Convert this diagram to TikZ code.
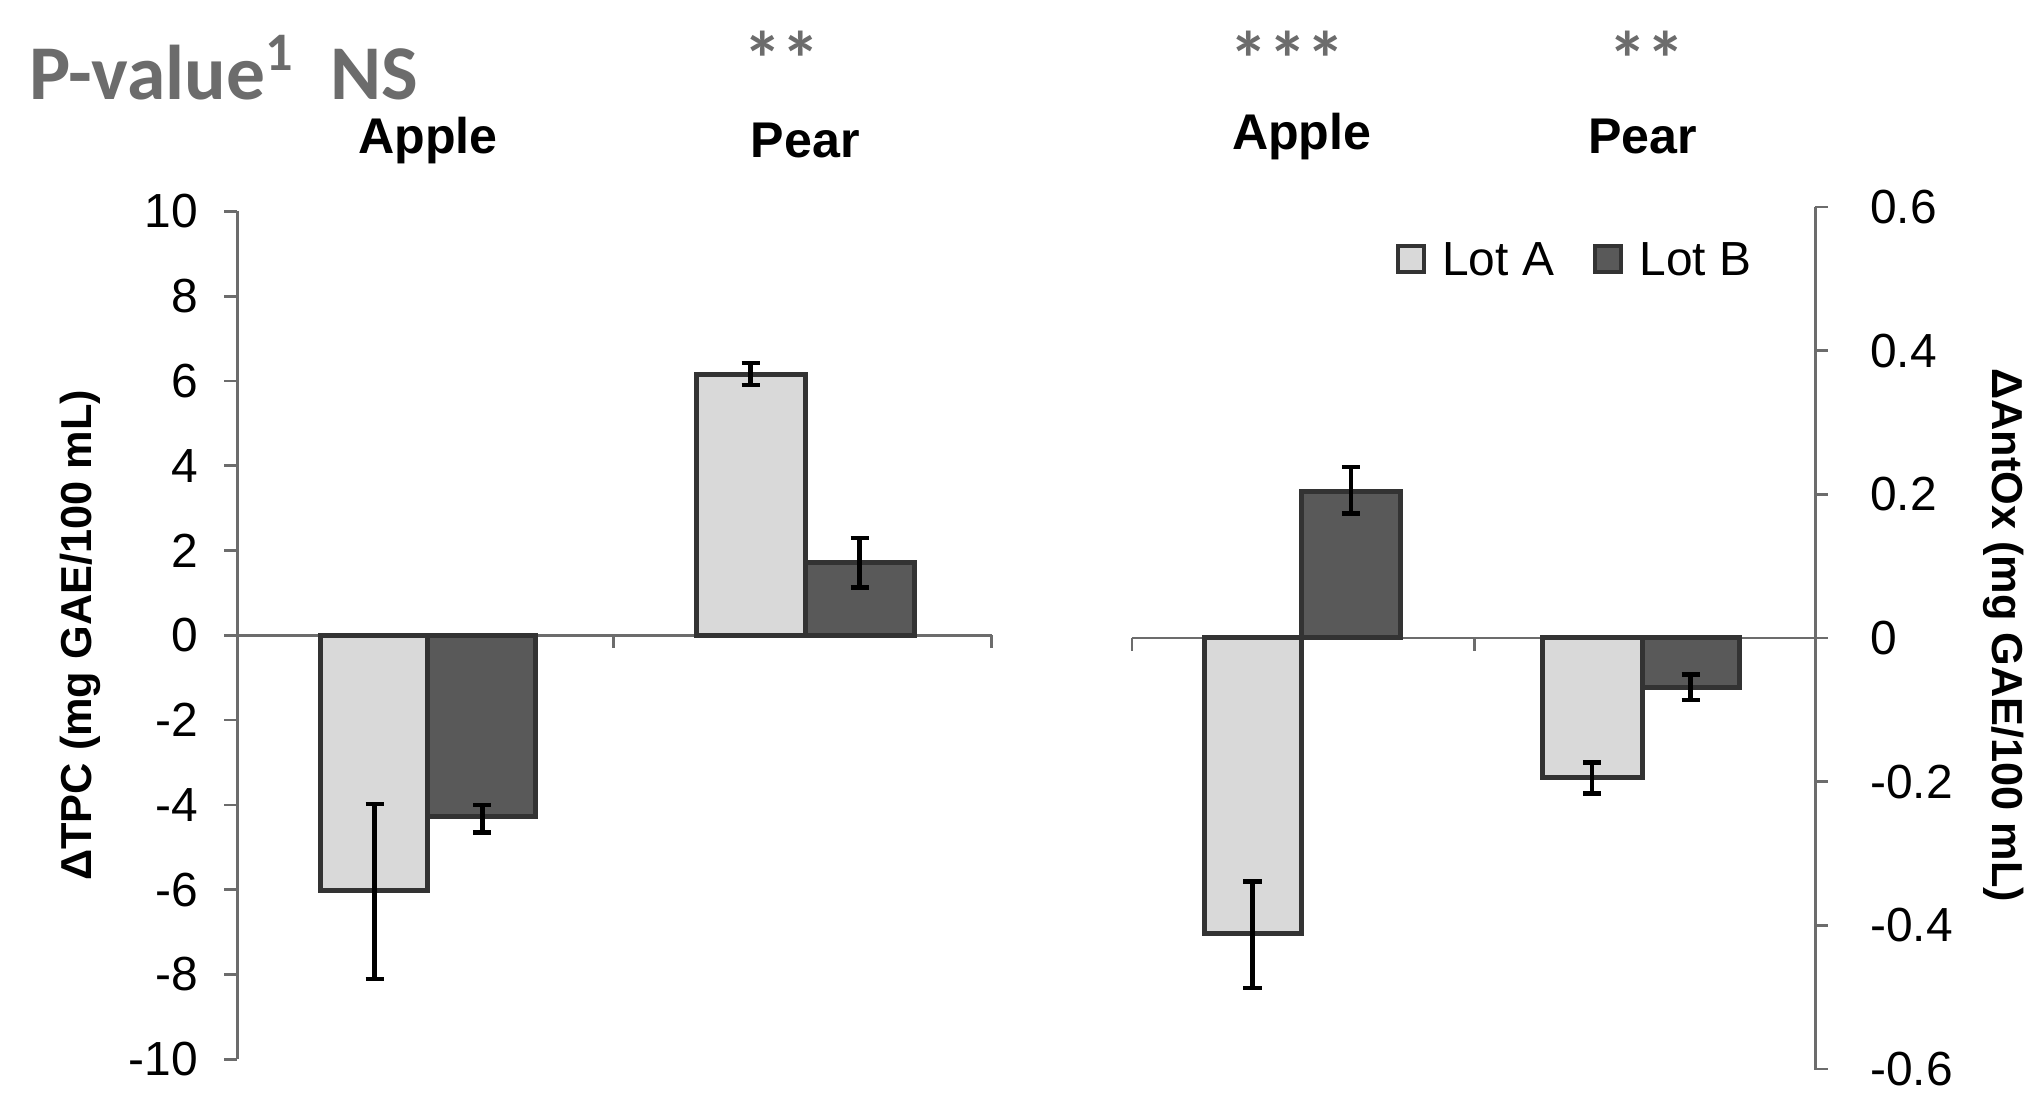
\documentclass[tikz,border=0pt]{standalone}
\usepackage{fontspec}
\setmainfont{Liberation Sans}
\newfontfamily\calib{Carlito}
\begin{document}
\begin{tikzpicture}[x=0.01cm,y=-0.01cm,
  axisline/.style={draw=gray!85!black,line width=0.6pt},
  barA/.style={fill=black!15,draw=black!80,line width=1.1pt},
  barB/.style={fill=black!65,draw=black!80,line width=1.1pt},
  errbar/.style={draw=black,line width=1pt},
  ticklab/.style={font=\fontsize{10.5}{12}\selectfont},
  catlab/.style={font=\bfseries\fontsize{11}{13}\selectfont},
  star/.style={text=gray!85!black,font=\calib\bfseries\fontsize{17}{19}\selectfont}]
\useasboundingbox (0,0) rectangle (1568,850);
% left axis
\draw[axisline] (183,163) -- (183,817);
\foreach \v in {-10,-8,...,10}{
  \pgfmathsetmacro{\yy}{490-32.7*\v}
  \draw[axisline] (173,\yy) -- (183,\yy);
  \node[ticklab,anchor=east] at (165,\yy) {\v};}
\draw[axisline] (183,490) -- (765,490);
\foreach \x in {183,473,765} \draw[axisline] (\x,490) -- (\x,500);
% left bars
\draw[barA] (247,490) rectangle (330,687);
\draw[barB] (330,490) rectangle (413,630);
\draw[barA] (537,490) rectangle (621,289);
\draw[barB] (621,490) rectangle (705,434);
\foreach \x/\a/\b in {289/620/755,372/621/642,579/280/297,663/415/453}{
  \draw[errbar] (\x,\a) -- (\x,\b) (\x-7,\a) -- (\x+7,\a) (\x-7,\b) -- (\x+7,\b);}
% right axis
\draw[axisline] (1400,160) -- (1400,825);
\foreach \v/\t in {-6/-0.6,-4/-0.4,-2/-0.2,0/0,2/0.2,4/0.4,6/0.6}{
  \pgfmathsetmacro{\yy}{492-55.4*\v}
  \draw[axisline] (1400,\yy) -- (1410,\yy);
  \node[ticklab,anchor=west] at (1430,\yy) {\t};}
\draw[axisline] (873,492) -- (1400,492);
\foreach \x in {873,1137,1400} \draw[axisline] (\x,492) -- (\x,502);
% right bars
\draw[barA] (929,492) rectangle (1004,720);
\draw[barB] (1004,492) rectangle (1080,379);
\draw[barA] (1190,492) rectangle (1267,600);
\draw[barB] (1267,492) rectangle (1342,530);
\foreach \x/\a/\b in {966/680/762,1042/360/396,1228/588/612,1304/520/540}{
  \draw[errbar] (\x,\a) -- (\x,\b) (\x-7,\a) -- (\x+7,\a) (\x-7,\b) -- (\x+7,\b);}
% labels
\node[catlab] (l1) at (330,108) {Apple};
\node[catlab] (l2) at (621,108) {Pear};
\node[catlab] (l3) at (1004,105) {Apple};
\node[catlab] (l4) at (1267,105) {Pear};
\node[star,anchor=west] (pv) at (10,52) {P-value\textsuperscript{1}\ \ NS};
\node[star] (s1) at (603,45) {**};
\node[star] (s2) at (993,45) {***};
\node[star] (s3) at (1270,45) {**};
\node[font=\bfseries\fontsize{9.5}{11}\selectfont,rotate=90] (yl) at (62,490) {ΔTPC (mg GAE/100 mL)};
\node[font=\bfseries\fontsize{9.5}{11}\selectfont,rotate=-90] (yr) at (1545,490) {ΔAntOx (mg GAE/100 mL)};
% legend
\draw[barA,line width=0.9pt] (1078,190) rectangle (1098,210);
\node[ticklab,anchor=west] (la) at (1100,200) {Lot A};
\draw[barB,line width=0.9pt] (1230,190) rectangle (1250,210);
\node[ticklab,anchor=west] (lb) at (1252,200) {Lot B};
\end{tikzpicture}
\end{document}
